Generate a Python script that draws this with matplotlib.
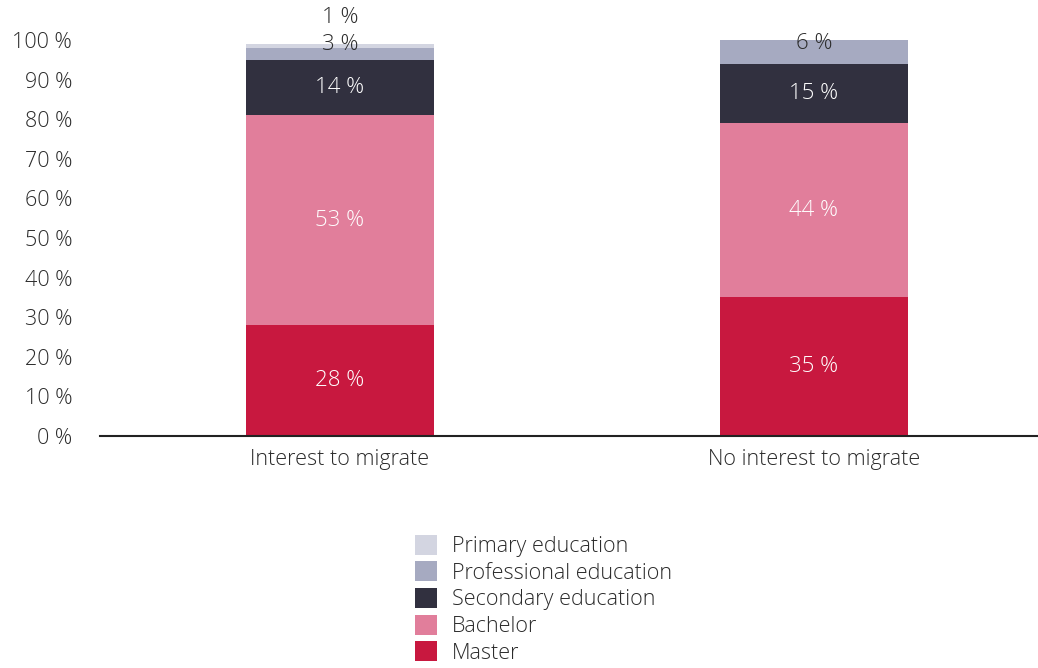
import matplotlib.pyplot as plt
import numpy as np

plt.rcParams['font.family'] = ['Open Sans', 'DejaVu Sans']

groups = ['Interest to migrate', 'No interest to migrate']
levels = ['Master', 'Bachelor', 'Secondary education',
          'Professional education', 'Primary education']
master = [28, 35]
bachelor = [53, 44]
secondary = [14, 15]
professional = [3, 6]
primary = [1, 0]

colors = ['#c8183f', '#e17e9b', '#31303f', '#a6aac1', '#d3d5e1']
text_colors = ['white', 'white', 'white', '#2b2b2b', '#2b2b2b']
fs = 15.5
weight = 'light'

fig = plt.figure(figsize=(10.38, 6.68), dpi=100)
ax = fig.add_axes([0.0963, 0.3473, 0.9037, 0.5927])

x = np.arange(len(groups))
series = [master, bachelor, secondary, professional, primary]
bottom = np.zeros(len(groups))
bars = []
for vals, col, tc in zip(series, colors, text_colors):
    vals = np.array(vals, dtype=float)
    b = ax.bar(x, vals, 0.395, bottom=bottom, color=col, linewidth=0)
    bars.append(b)
    for i, v in enumerate(vals):
        if v <= 0:
            continue
        y = bottom[i] + v / 2
        # small segments at the top get their labels pushed upward
        if col == '#a6aac1':
            y = bottom[i] + v / 2 + (2.3 if v < 4 else 2.2)
        if v < 2:
            y = 105.7
        ax.text(x[i], y, f'{v:.0f} %', ha='center', va='center',
                color=tc, fontsize=fs + 0.5, fontweight=weight, clip_on=False)
    bottom += vals

ax.set_xlim(-0.506, 1.4725)
ax.set_ylim(0, 100)
ax.set_yticks(range(0, 101, 10))
ax.set_yticklabels([f'{t} %' for t in range(0, 101, 10)])
ax.set_xticks(x)
ax.set_xticklabels(groups)
ax.tick_params(axis='both', length=0, labelsize=fs, colors='#2b2b2b')
ax.tick_params(axis='y', pad=20)
ax.tick_params(axis='x', pad=9)
for lab in ax.get_xticklabels() + ax.get_yticklabels():
    lab.set_fontweight(weight)
for s in ['top', 'right', 'left']:
    ax.spines[s].set_visible(False)
ax.spines['bottom'].set_linewidth(1.5)
ax.spines['bottom'].set_color('#222222')

handles = [bars[i][0] for i in range(4, -1, -1)]
labels = [levels[i] for i in range(4, -1, -1)]
leg = fig.legend(handles, labels, loc='upper left', bbox_to_anchor=(0.385, 0.222),
                 frameon=False, fontsize=fs, handlelength=1.05, handleheight=1.05,
                 handletextpad=0.7, labelspacing=0.2, labelcolor='#2b2b2b',
                 borderpad=0.2)
for t in leg.get_texts():
    t.set_fontweight(weight)

fig.savefig('out.png', dpi=100)
